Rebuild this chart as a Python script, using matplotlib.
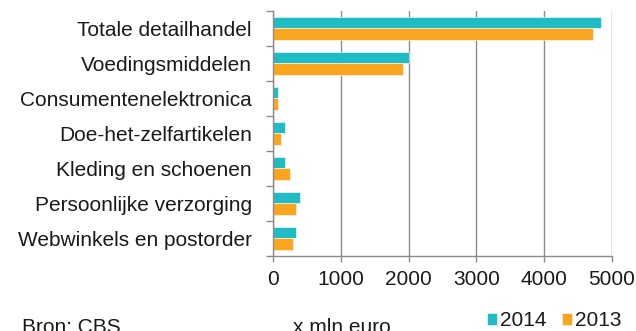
import numpy as np
import matplotlib
matplotlib.use('Agg')
import matplotlib.pyplot as plt
from matplotlib.ticker import MultipleLocator, FixedLocator

categories = ['Totale detailhandel', 'Voedingsmiddelen', 'Consumentenelektronica',
              'Doe-het-zelfartikelen', 'Kleding en schoenen', 'Persoonlijke verzorging',
              'Webwinkels en postorder']
values_2014 = [4840, 2010, 60, 175, 175, 385, 330]
values_2013 = [4730, 1915, 62, 118, 237, 330, 296]
years = ['2014', '2013']

c14 = '#1fbcc6'
c13 = '#f9a51e'
grey = '#8c8c8c'
txt = '#1a1a1a'
fs = 15

plt.rcParams['font.family'] = ['Liberation Sans', 'DejaVu Sans']

fig = plt.figure(figsize=(6.36, 3.31), dpi=100)
ax = fig.add_axes([0.430, 0.2275, 0.5315, 0.7393])

y = np.arange(len(categories))
h = 0.325
ax.barh(y - h / 2, values_2014, height=h, color=c14, label=years[0], edgecolor='white', linewidth=0.4)
ax.barh(y + h / 2, values_2013, height=h, color=c13, label=years[1], edgecolor='white', linewidth=0.4)

ax.set_ylim(len(categories) - 0.5, -0.5)
ax.set_xlim(0, 5000)
ax.xaxis.set_major_locator(MultipleLocator(1000))
ax.set_yticks(y)
ax.set_yticklabels(categories, fontsize=fs, color=txt)
ax.yaxis.set_minor_locator(FixedLocator(np.arange(len(categories) + 1) - 0.5))
ax.tick_params(axis='y', which='major', length=0, pad=15.5)
ax.tick_params(axis='y', which='minor', length=5, width=1, color=grey, direction='out')
ax.tick_params(axis='x', length=4.5, width=1, color=grey, labelsize=fs, labelcolor=txt, pad=5.5)

ax.grid(axis='x', color=grey, linewidth=1)
ax.set_axisbelow(True)
for s in ['top', 'right']:
    ax.spines[s].set_visible(False)
for s in ['left', 'bottom']:
    ax.spines[s].set_color(grey)
    ax.spines[s].set_linewidth(1)

fig.text(22 / 636, 1 - 333 / 331, 'Bron: CBS', fontsize=fs, va='baseline', color=txt)
fig.text(293 / 636, 1 - 333 / 331, 'x mln euro', fontsize=fs, va='baseline', color=txt)
fig.legend(loc='center left', bbox_to_anchor=(487 / 636, 1 - 321 / 331), ncol=2, frameon=False,
           fontsize=fs, handlelength=0.48, handleheight=0.45, handletextpad=0.15,
           columnspacing=0.75, borderpad=0, borderaxespad=0, labelcolor=txt)

fig.savefig('out.png', dpi=100)
